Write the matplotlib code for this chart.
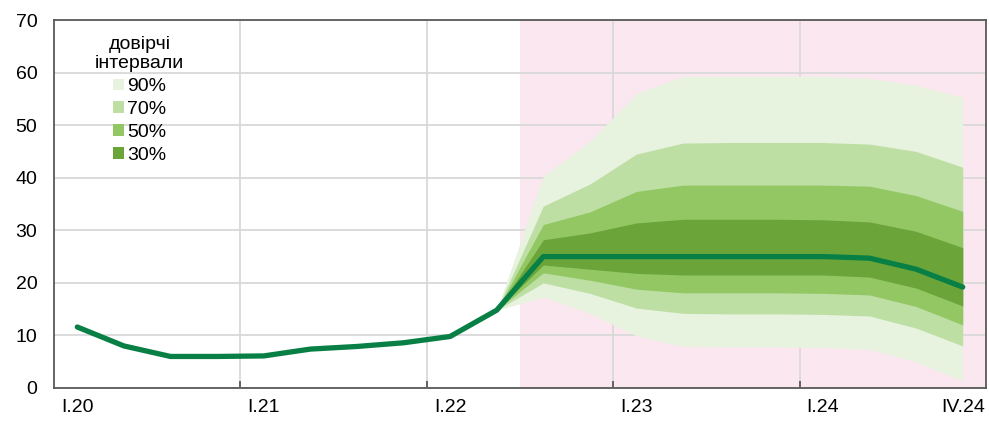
import matplotlib
matplotlib.use("Agg")
import matplotlib.pyplot as plt
from matplotlib.patches import Patch

# quarterly labels, I.20 .. IV.24
quarters = [f"{q}.{y}" for y in range(20, 25) for q in ["I", "II", "III", "IV"]]
shown_labels = ["I.20", "I.21", "I.22", "I.23", "I.24", "IV.24"]

# central path (actual + forecast)
line_values = [11.6, 8.0, 6.0, 6.0, 6.1, 7.4, 7.9, 8.6, 9.8, 14.8,
               25.0, 25.0, 25.0, 25.0, 25.0, 25.0, 25.0, 24.7, 22.6, 19.2]

# fan chart bounds, from III.22 (index 9) onwards
fan_start = 9
upper_90 = [14.8, 40.3, 46.9, 56.0, 59.3, 59.3, 59.3, 59.3, 58.9, 57.6, 55.3]
upper_70 = [14.8, 34.6, 38.8, 44.5, 46.6, 46.7, 46.7, 46.7, 46.4, 45.0, 42.0]
upper_50 = [14.8, 31.1, 33.5, 37.4, 38.6, 38.6, 38.6, 38.6, 38.4, 36.6, 33.6]
upper_30 = [14.8, 28.2, 29.5, 31.4, 32.1, 32.1, 32.1, 32.0, 31.6, 29.8, 26.7]
lower_30 = [14.8, 23.4, 22.6, 21.8, 21.5, 21.5, 21.5, 21.5, 21.1, 19.0, 15.6]
lower_50 = [14.8, 21.9, 20.5, 18.8, 18.1, 18.1, 18.1, 18.0, 17.7, 15.5, 12.0]
lower_70 = [14.8, 20.0, 18.0, 15.2, 14.2, 14.1, 14.1, 14.0, 13.7, 11.4, 8.0]
lower_90 = [14.8, 17.3, 14.2, 9.9, 7.9, 7.8, 7.8, 7.7, 7.35, 5.0, 1.3]

band_labels = ["90%", "70%", "50%", "30%"]
band_colors = ["#E7F2DF", "#BEDFA4", "#93C763", "#6BA53A"]
legend_title = "довірчі\nінтервали"


def main():
    plt.rcParams["font.family"] = ["Liberation Sans", "DejaVu Sans"]

    fig = plt.figure(figsize=(9.89, 4.21), dpi=100)
    ax = fig.add_axes([0.0546, 0.0784, 0.9424, 0.874])

    x = list(range(len(quarters)))
    fan_x = x[fan_start:]

    # forecast period shading
    ax.axvspan(fan_start + 0.5, len(quarters) - 0.5, color="#FBE7EF", zorder=0, lw=0)

    # fan bands, widest first
    bands = [(upper_90, lower_90), (upper_70, lower_70),
             (upper_50, lower_50), (upper_30, lower_30)]
    for (hi, lo), col in zip(bands, band_colors):
        ax.fill_between(fan_x, lo, hi, color=col, lw=0, zorder=1)

    ax.plot(x, line_values, color="#087F45", lw=3.8,
            solid_capstyle="round", solid_joinstyle="round", zorder=3)

    ax.set_xlim(-0.5, len(quarters) - 0.5)
    ax.set_ylim(0, 70)

    # labels at quarters, ticks/grid at year boundaries
    ax.set_xticks([quarters.index(l) for l in shown_labels])
    ax.set_xticklabels(shown_labels)
    ax.set_xticks([i - 0.5 for i in range(4, 20, 4)], minor=True)
    ax.tick_params(axis="x", which="major", length=0, pad=8, labelsize=14)
    ax.tick_params(axis="x", which="minor", length=5, width=1.3,
                   direction="in", color="#595959")
    ax.set_yticks(range(0, 71, 10))
    ax.tick_params(axis="y", length=0, pad=12, labelsize=14)

    ax.set_axisbelow(True)
    ax.grid(axis="y", which="major", color="#D9D9D9", lw=1.3)
    ax.grid(axis="x", which="minor", color="#D9D9D9", lw=1.3)

    for s in ax.spines.values():
        s.set_color("#595959")
        s.set_linewidth(1.3)

    handles = [Patch(facecolor=c, edgecolor="none") for c in band_colors]
    leg = ax.legend(handles, band_labels, title=legend_title,
                    loc="upper left", bbox_to_anchor=(0.044, 0.957),
                    frameon=False, fontsize=14, title_fontsize=14,
                    handlelength=0.55, handleheight=0.55, handletextpad=0.15,
                    labelspacing=0.3, borderpad=0, borderaxespad=0)
    leg.get_title().set_multialignment("center")
    leg.get_title().set_linespacing(1.2)

    fig.savefig("out.png", dpi=100)
    plt.close(fig)


if __name__ == "__main__":
    main()
